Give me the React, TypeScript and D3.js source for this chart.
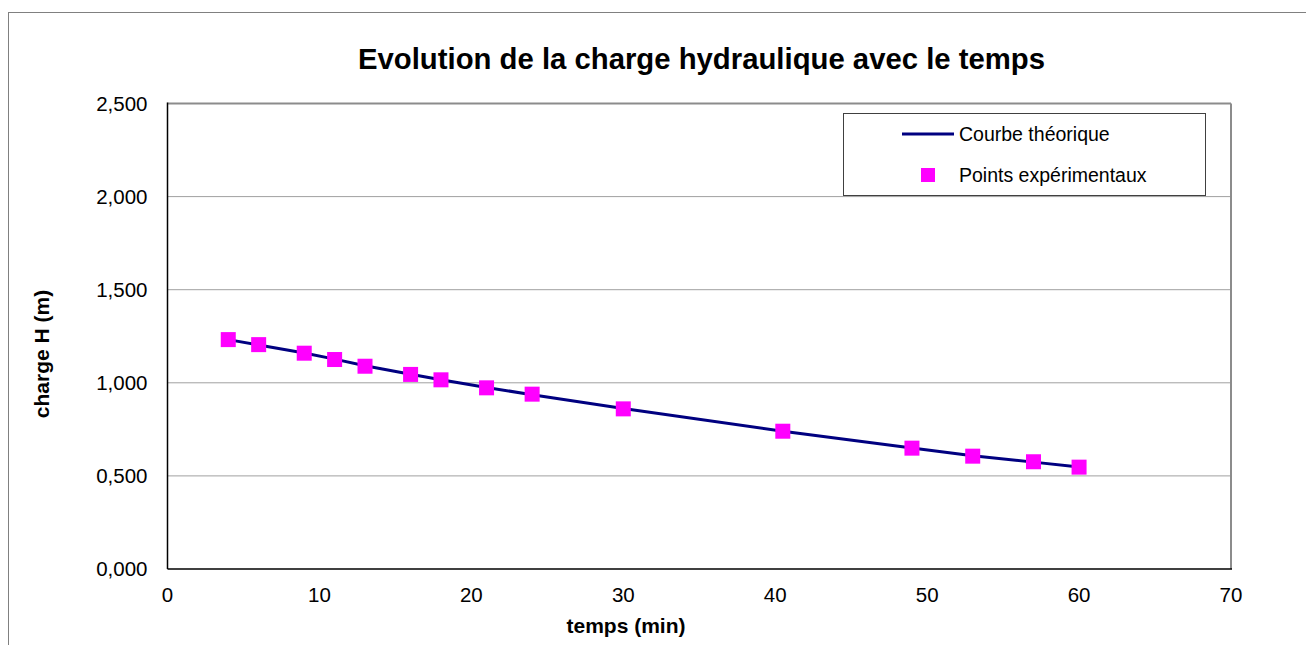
import React from "react";
import * as d3 from "d3";

const times = [4, 6, 9, 11, 13, 16, 18, 21, 24, 30, 40.5, 49, 53, 57, 60];
const experimental = [1.232, 1.205, 1.159, 1.125, 1.089, 1.045, 1.016, 0.973, 0.939, 0.86, 0.74, 0.649, 0.606, 0.576, 0.547];
const theoretical = [1.232, 1.203, 1.16, 1.127, 1.092, 1.046, 1.016, 0.975, 0.936, 0.862, 0.74, 0.65, 0.608, 0.574, 0.548];
const xTicks = [0, 10, 20, 30, 40, 50, 60, 70];
const yTicks = [0, 0.5, 1, 1.5, 2, 2.5];

const W = 1306;
const H = 645;
const plot = { left: 167.5, right: 1231, top: 103.5, bottom: 569 };
const FONT = "'Liberation Sans', Arial, sans-serif";

export default function App() {
  const x = d3.scaleLinear().domain([0, 70]).range([plot.left, plot.right]);
  const y = d3.scaleLinear().domain([0, 2.5]).range([plot.bottom, plot.top]);
  const fmtY = (v: number) => d3.format(".3f")(v).replace(".", ",");
  const line = d3
    .line<number>()
    .x((_, i) => x(times[i]))
    .y((d) => y(d));
  const sq = 15;

  return (
    <svg
      width={W}
      height={H}
      style={{ position: "absolute", left: 0, top: 0, background: "#fff" }}
      fontFamily={FONT}
    >
      <rect x={0} y={0} width={W} height={H} fill="#fff" />
      {/* outer chart border */}
      <rect x={8.5} y={12.5} width={W + 20} height={H + 20} fill="none" stroke="#808080" strokeWidth={1} />

      {/* title */}
      <text x={701.5} y={69} textAnchor="middle" fontSize={29.3} fontWeight="bold" fill="#000">
        Evolution de la charge hydraulique avec le temps
      </text>

      {/* gridlines */}
      {yTicks.slice(1, -1).map((t) => (
        <line key={t} x1={plot.left} x2={plot.right} y1={y(t)} y2={y(t)} stroke="#a0a0a0" strokeWidth={1} />
      ))}
      {/* plot frame: top & right gray */}
      <line x1={plot.left} x2={plot.right} y1={plot.top} y2={plot.top} stroke="#8c8c8c" strokeWidth={2} />
      <line x1={plot.right} x2={plot.right} y1={plot.top} y2={plot.bottom} stroke="#8c8c8c" strokeWidth={2} />
      {/* axes */}
      <line x1={plot.left} x2={plot.left} y1={plot.top - 1} y2={plot.bottom} stroke="#000" strokeWidth={1.5} />
      <line x1={plot.left} x2={plot.right + 1} y1={plot.bottom} y2={plot.bottom} stroke="#000" strokeWidth={1.5} />

      {/* y tick labels */}
      {yTicks.map((t) => (
        <text key={t} x={147.5} y={y(t)} dy="0.35em" textAnchor="end" fontSize={20.5} fill="#000">
          {fmtY(t)}
        </text>
      ))}
      {/* x tick labels */}
      {xTicks.map((t) => (
        <text key={t} x={x(t)} y={601.5} textAnchor="middle" fontSize={20.5} fill="#000">
          {t}
        </text>
      ))}

      {/* axis titles */}
      <text x={626} y={633} textAnchor="middle" fontSize={21} fontWeight="bold" fill="#000">
        temps (min)
      </text>
      <text
        transform={`translate(48.5,354) rotate(-90)`}
        textAnchor="middle"
        fontSize={21}
        fontWeight="bold"
        fill="#000"
      >
        charge H (m)
      </text>

      {/* theoretical curve */}
      <path d={line(theoretical) || ""} fill="none" stroke="#000080" strokeWidth={3} />
      {/* experimental points */}
      {experimental.map((v, i) => (
        <rect
          key={i}
          x={x(times[i]) - sq / 2}
          y={y(v) - sq / 2}
          width={sq}
          height={sq}
          fill="#ff00ff"
        />
      ))}

      {/* legend */}
      <rect x={843.5} y={113.5} width={362} height={82} fill="#fff" stroke="#404040" strokeWidth={1} />
      <line x1={902} x2={954} y1={134} y2={134} stroke="#000080" strokeWidth={3} />
      <text x={959} y={134} dy="0.35em" fontSize={19.5} fill="#000">
        Courbe théorique
      </text>
      <rect x={928 - 7} y={175 - 7} width={14} height={14} fill="#ff00ff" />
      <text x={959} y={175} dy="0.35em" fontSize={19.5} fill="#000">
        Points expérimentaux
      </text>
    </svg>
  );
}
